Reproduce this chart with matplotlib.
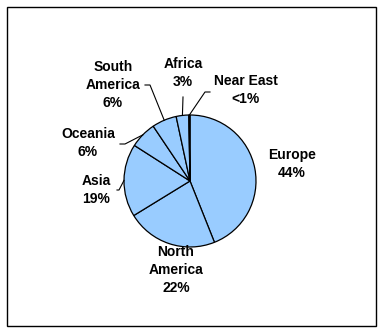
import numpy as np
import matplotlib
matplotlib.use("Agg")
import matplotlib.pyplot as plt
from matplotlib.patches import Rectangle

regions = ["Europe", "North America", "Asia", "Oceania", "South America", "Africa", "Near East"]
shares = [44.4, 22.5, 18.0, 6.6, 6.1, 3.1, 0.3]
labels = ["Europe\n44%", "North\nAmerica\n22%", "Asia\n19%", "Oceania\n6%",
          "South\nAmerica\n6%", "Africa\n3%", "Near East\n<1%"]

W, H = 382, 331
fig = plt.figure(figsize=(W / 100, H / 100), dpi=100)
ax = fig.add_axes([0, 0, 1, 1])
ax.set_xlim(0, W)
ax.set_ylim(0, H)
ax.set_aspect("equal")
ax.axis("off")

def py(y):
    return H - y

cx, cy, r = 190, py(181), 66
wedges, _ = ax.pie(shares, startangle=90, counterclock=False, center=(cx, cy), radius=r,
                   colors=["#99CCFF"] * len(shares),
                   wedgeprops=dict(edgecolor="black", linewidth=0.9), frame=True)
ax.set_xlim(0, W)
ax.set_ylim(0, H)
ax.axis("off")

# label layout (pixel positions of text centres) and leader start points
label_pos = {
    "Europe": (292, 164),
    "North America": (176, 270),
    "Asia": (96, 190),
    "Oceania": (88, 143),
    "South America": (113, 85),
    "Africa": (183, 73),
    "Near East": (246, 90),
}
leaders = {
    "Asia": [(117, 190), (119, 190)],
    "Oceania": [(120, 144), (125, 144)],
    "South America": [(145, 85), (150, 85)],
    "Africa": [(183, 97)],
    "Near East": [(210, 92), (205, 92)],
}

font = dict(family=["Liberation Sans", "DejaVu Sans"], fontweight="bold", fontsize=10)
for name, lab, w in zip(regions, labels, wedges):
    x, y = label_pos[name]
    ax.text(x, py(y), lab, ha="center", va="center", linespacing=1.35, **font)
    if name in leaders:
        mid = np.deg2rad((w.theta1 + w.theta2) / 2)
        ex, ey = cx + r * np.cos(mid), cy + r * np.sin(mid)
        pts = [(px_, py(py_)) for px_, py_ in leaders[name]] + [(ex, ey)]
        xs, ys = zip(*pts)
        ax.plot(xs, ys, color="black", linewidth=0.8)

ax.add_patch(Rectangle((7, py(326)), 369, 319, fill=False, edgecolor="black", linewidth=1.0))

fig.savefig("out.png", dpi=100)
